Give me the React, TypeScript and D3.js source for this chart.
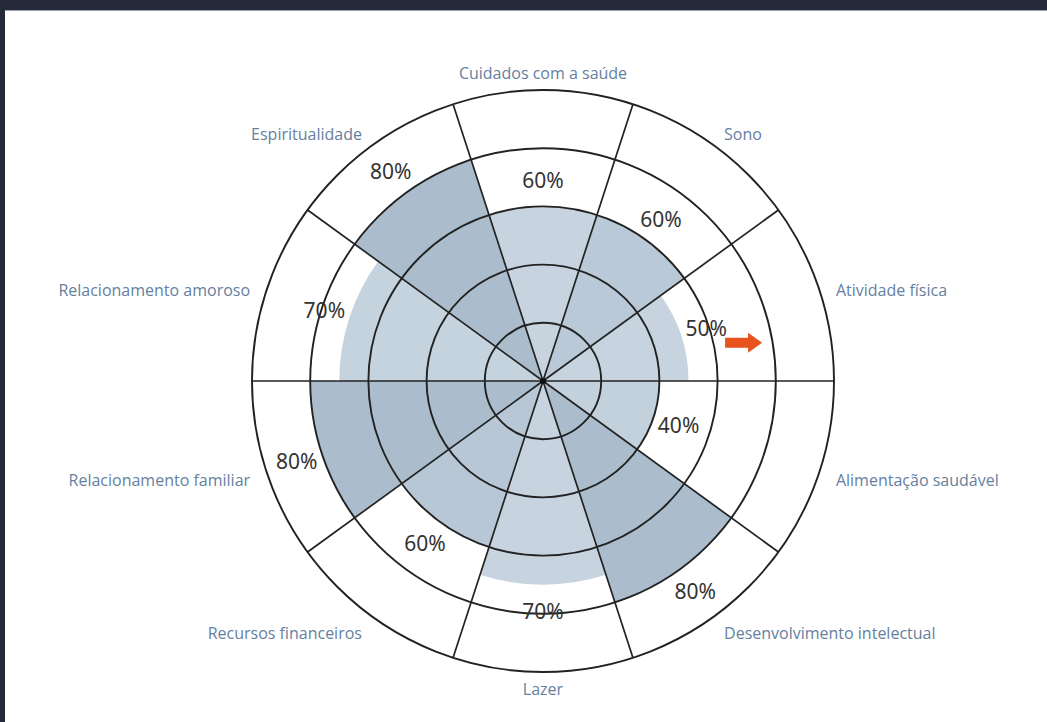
import React from "react";
import * as d3 from "d3";

// wheel of life categories, clockwise from the top
const categories = [
  "Cuidados com a saúde",
  "Sono",
  "Atividade física",
  "Alimentação saudável",
  "Desenvolvimento intelectual",
  "Lazer",
  "Recursos financeiros",
  "Relacionamento familiar",
  "Relacionamento amoroso",
  "Espiritualidade",
];
const values = [60, 60, 50, 40, 80, 70, 60, 80, 70, 80];
const ringTicks = [20, 40, 60, 80, 100];

// wedge tints (light / medium / dark)
const shades = [
  "#c7d4df",
  "#b9c9d7",
  "#c7d4df",
  "#c3d1dd",
  "#abbdcd",
  "#c7d4df",
  "#b7c7d5",
  "#abbdcd",
  "#c5d3de",
  "#abbdcd",
];

const W = 1047;
const H = 722;
const cx = 543;
const cy = 381;
const R = 291;

export default function App() {
  const r = d3.scaleLinear().domain([0, 100]).range([0, R]);
  const n = categories.length;
  const ang = d3.scaleLinear().domain([0, n]).range([0, 2 * Math.PI]);

  const arc = d3.arc<{ i: number; v: number }>()
    .innerRadius(0)
    .outerRadius((d) => r(d.v))
    .startAngle((d) => ang(d.i - 0.5))
    .endAngle((d) => ang(d.i + 0.5));

  const polar = (a: number, rad: number): [number, number] => [
    cx + rad * Math.sin(a),
    cy - rad * Math.cos(a),
  ];

  const wedges = values.map((v, i) => ({ i, v }));
  const spokes = d3.range(n).map((i) => polar(ang(i - 0.5), R));

  // little orange marker next to "Atividade física"
  const [ax, ay] = polar(ang(2.2), r(70));
  const arrow = "M-18,-5 L5,-5 L5,-10 L19,0 L5,10 L5,5 L-18,5 Z";

  return (
    <div style={{ position: "absolute", left: 0, top: 0 }}>
      <svg width={W} height={H} style={{ display: "block" }}>
        <rect width={W} height={H} fill="#252a38" />
        <rect x={5} y={10} width={W - 5} height={H - 10} fill="#ffffff" />
        <line x1={5} x2={W} y1={10.5} y2={10.5} stroke="#9aa0aa" strokeWidth={1} />

        <g transform={`translate(${cx},${cy})`}>
          {wedges.map((d) => (
            <path key={d.i} d={arc(d) as string} fill={shades[d.i]} />
          ))}
          {ringTicks.map((t) => (
            <circle
              key={t}
              r={r(t)}
              fill="none"
              stroke="#222"
              strokeWidth={1.9}
            />
          ))}
        </g>

        {spokes.map(([x, y], i) => (
          <line
            key={i}
            x1={cx}
            y1={cy}
            x2={x}
            y2={y}
            stroke="#222"
            strokeWidth={1.7}
          />
        ))}
        <circle cx={cx} cy={cy} r={3} fill="#111" />

        {values.map((v, i) => {
          const [x, y] = polar(ang(i), r(v + 9));
          return (
            <text
              key={i}
              x={x}
              y={y}
              textAnchor="middle"
              dominantBaseline="central"
              fontFamily="'Noto Sans', 'Open Sans', sans-serif"
              fontSize={21}
              fill="#333"
            >
              {v}%
            </text>
          );
        })}

        {categories.map((c, i) => {
          const a = ang(i);
          const [x, y] = polar(a, 308);
          const s = Math.sin(a);
          const anchor = s > 0.2 ? "start" : s < -0.2 ? "end" : "middle";
          return (
            <text
              key={c}
              x={x}
              y={y + 4 * Math.abs(s)}
              textAnchor={anchor}
              dominantBaseline="central"
              fontFamily="'Open Sans', 'Noto Sans', sans-serif"
              fontSize={16}
              fill="#6580a0"
            >
              {c}
            </text>
          );
        })}

        <path d={arrow} transform={`translate(${ax},${ay})`} fill="#e8521c" />
      </svg>
    </div>
  );
}
